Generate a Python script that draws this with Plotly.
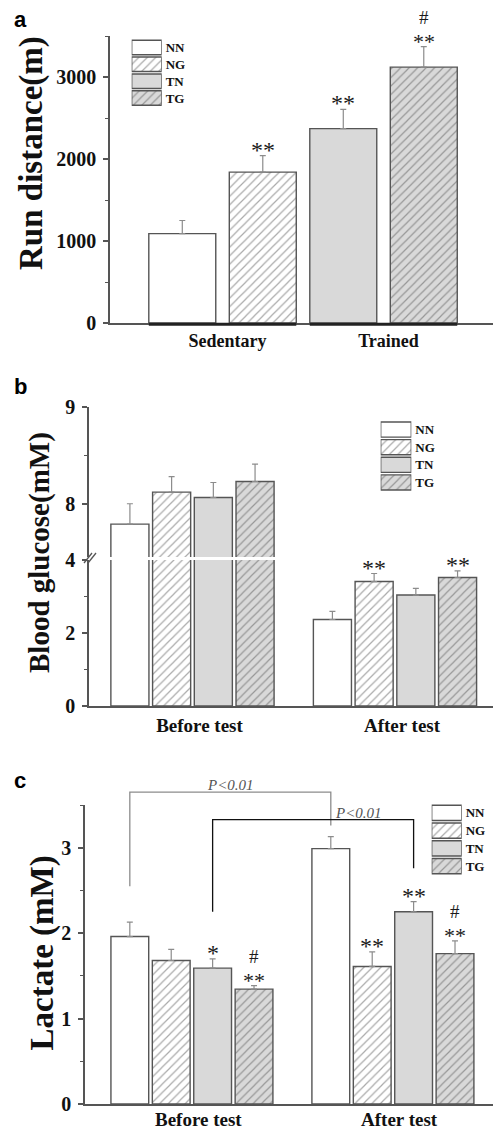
import plotly.graph_objects as go

W, H = 493, 1132

# ---------------- data ----------------
series = ["NN", "NG", "TN", "TG"]
series_fill = ["#ffffff", "#ffffff", "#d9d9d9", "#d9d9d9"]
series_hatch = ["", "/", "", "/"]

# panel a
a_groups = ["Sedentary", "Trained"]
a_group_index = [0, 0, 1, 1]            # NN, NG -> Sedentary ; TN, TG -> Trained
a_values = [1090, 1840, 2370, 3120]
a_errors = [160, 200, 235, 250]
a_marks = ["", "**", "**", "**"]
a_hash = ["", "", "", "#"]

# panel b  (per series: [before, after])
b_groups = ["Before test", "After test"]
b_values = [[7.79, 2.37], [8.12, 3.41], [8.065, 3.04], [8.23, 3.52]]
b_errors = [[0.21, 0.22], [0.16, 0.22], [0.155, 0.18], [0.18, 0.18]]
b_marks = [["", ""], ["", "**"], ["", ""], ["", "**"]]

# panel c
c_groups = ["Before test", "After test"]
c_values = [[1.96, 2.99], [1.68, 1.61], [1.59, 2.25], [1.345, 1.76]]
c_errors = [[0.17, 0.14], [0.13, 0.17], [0.11, 0.12], [0.04, 0.15]]
c_marks = [["", ""], ["", "**"], ["*", "**"], ["**", "**"]]
c_hash = [["", ""], ["", ""], ["", ""], ["#", "#"]]
# bracket: series, left foot, top, right foot
c_brackets = [("NN", 2.55, 3.65, 3.26), ("TN", 2.25, 3.33, 2.76)]
c_p_label = "P&lt;0.01"

# ---------------- layout helpers ----------------
def dx(l, r):
    return [l / W, r / W]

def dy(bottom, top):
    return [1 - bottom / H, 1 - top / H]

A_X, A_Y = dx(110, 493), dy(323, 36)
B_X, B_YL, B_YU = dx(89, 493), dy(706, 560), dy(557, 407)
C_X, C_Y = dx(85, 493), dy(1104, 805)
A_XR, B_XR, C_XR = [-0.699, 1.680], [-0.511, 1.484], [-0.532, 1.498]
A_YR, B_YLR, B_YUR, C_YR = [0, 3500], [0, 4.0], [7.45, 9.0], [0, 3.5001]

a_off = [-0.25, 0.25, -0.25, 0.25]
a_width = 0.416
bc_off = [-0.309, -0.103, 0.103, 0.309]
bc_width = 0.188

def to_px(v, rng, dom):
    return dom[0] + (v - rng[0]) / (rng[1] - rng[0]) * (dom[1] - dom[0])

LINE = "#555555"
TXT = "#111111"
ERR = dict(color="#8c8c8c", thickness=1.2, width=3)
SERIF = "Liberation Serif"

def marker(i):
    m = dict(color=series_fill[i], line=dict(color=LINE, width=1.4))
    if series_hatch[i]:
        m["pattern"] = dict(shape=series_hatch[i], fgcolor="#555555",
                            bgcolor=series_fill[i], size=6, solidity=0.2,
                            fillmode="overlay")
    return m

fig = go.Figure()

# ---------------- panel a ----------------
for i, s in enumerate(series):
    fig.add_trace(go.Bar(
        x=[a_group_index[i] + a_off[i]], y=[a_values[i]], width=a_width,
        marker=marker(i), showlegend=False, name=s,
        error_y=dict(type="data", symmetric=False, array=[a_errors[i]],
                     arrayminus=[0], **ERR),
        xaxis="x", yaxis="y"))

# ---------------- panel b ----------------
for i, s in enumerate(series):
    xs = [g + bc_off[i] for g in range(len(b_groups))]
    for ya in ("y2", "y3"):
        fig.add_trace(go.Bar(
            x=xs, y=b_values[i], width=bc_width, marker=marker(i),
            showlegend=False, name=s,
            error_y=dict(type="data", symmetric=False, array=b_errors[i],
                         arrayminus=[0, 0], **ERR),
            xaxis="x2", yaxis=ya))

# ---------------- panel c ----------------
for i, s in enumerate(series):
    xs = [g + bc_off[i] for g in range(len(c_groups))]
    fig.add_trace(go.Bar(
        x=xs, y=c_values[i], width=bc_width, marker=marker(i),
        showlegend=False, name=s,
        error_y=dict(type="data", symmetric=False, array=c_errors[i],
                     arrayminus=[0, 0], **ERR),
        xaxis="x4", yaxis="y4"))

# ---------------- custom legends (swatch bars) ----------------
legend_boxes = [("x5", "y5", (131.7, 161.7), (39, 106.5)),
                ("x6", "y6", (380.7, 411.3), (420.7, 491.3)),
                ("x7", "y7", (431.7, 461.7), (804, 875))]
for xa, ya, _, _ in legend_boxes:
    for i, s in enumerate(series):
        fig.add_trace(go.Bar(
            y=[s], x=[1], orientation="h", width=0.86, marker=marker(i),
            showlegend=False, name=s, xaxis=xa, yaxis=ya, hoverinfo="skip"))

# ---------------- axes ----------------
def yax(dom, rng, anchor, **kw):
    d = dict(domain=dom, range=rng, anchor=anchor, showline=True, linecolor=LINE,
             linewidth=1.5, ticks="outside", ticklen=5, tickwidth=1.5,
             tickcolor=LINE, showgrid=False, zeroline=False, automargin=False,
             ticklabelstandoff=3,
             tickfont=dict(family=SERIF, size=20, color=TXT, weight="bold"))
    d.update(kw)
    return d

def xax(dom, rng, anchor, groups, size, shift, show=True):
    return dict(domain=dom, range=rng, anchor=anchor, showline=True,
                linecolor=LINE, linewidth=1.5, ticks="", showgrid=False,
                zeroline=False, automargin=False, showticklabels=show,
                tickvals=list(range(len(groups))),
                ticktext=groups, ticklabelstandoff=1, ticklabelshift=shift,
                tickfont=dict(family=SERIF, size=size, color=TXT, weight="bold"))

minor = lambda **k: dict(ticks="outside", ticklen=3, tickwidth=1.2,
                         tickcolor=LINE, showgrid=False, **k)

fig.update_layout(
    xaxis=xax(A_X, A_XR, "y", a_groups, 18, 5),
    yaxis=yax(A_Y, A_YR, "x", dtick=1000, minor=minor(dtick=500)),
    xaxis2=xax(B_X, B_XR, "y2", b_groups, 19, 7),
    yaxis2=yax(B_YL, B_YLR, "x2", dtick=2, minor=minor(dtick=1)),
    yaxis3=yax(B_YU, B_YUR, "x2", tickvals=[8, 9], minor=minor(tickvals=[8.5])),
    xaxis4=xax(C_X, C_XR, "y4", c_groups, 19, 7, show=False),
    yaxis4=yax(C_Y, C_YR, "x4", dtick=1, minor=minor(dtick=0.5)),
)
for n, (xa, ya, xp, yp) in zip((5, 6, 7), legend_boxes):
    fig.layout[f"xaxis{n}"] = dict(domain=dx(*xp), range=[0, 1], anchor=ya,
                                   visible=False, fixedrange=True,
                                   automargin=False)
    fig.layout[f"yaxis{n}"] = dict(domain=dy(yp[1], yp[0]), range=[3.5, -0.5],
                                   anchor=xa, side="right", showline=False,
                                   ticks="", showgrid=False, zeroline=False,
                                   automargin=False,
                                   type="category", categoryarray=series,
                                   ticklabelstandoff=3,
                                   tickfont=dict(family=SERIF, size=13,
                                                 color=TXT, weight="bold"))

# ---------------- annotations ----------------
ann = []
def mark(x, y, xref, yref, star, hsh):
    size = 22 if hsh else 24
    ann.append(dict(x=x, y=y, xref=xref, yref=yref, text=star, showarrow=False,
                    yanchor="bottom", yshift=-9,
                    font=dict(family=SERIF, size=size, color="#1a1a1a")))
    if hsh:
        ann.append(dict(x=x, y=y, xref=xref, yref=yref, text=hsh, showarrow=False,
                        yanchor="bottom", yshift=16.5,
                        font=dict(family=SERIF, size=19, color="#1a1a1a")))

for i in range(4):
    if a_marks[i]:
        mark(a_group_index[i] + a_off[i], a_values[i] + a_errors[i], "x", "y",
             a_marks[i], a_hash[i])
for i in range(4):
    for g in range(2):
        xv = g + bc_off[i]
        if b_marks[i][g]:
            mark(xv, b_values[i][g] + b_errors[i][g], "x2", "y2", b_marks[i][g], "")
        if c_marks[i][g]:
            mark(xv, c_values[i][g] + c_errors[i][g], "x4", "y4",
                 c_marks[i][g], c_hash[i][g])

# category labels of panel c (kept inside the page bottom)
for g, name in enumerate(c_groups):
    ann.append(dict(x=g, y=0, xref="x4", yref="paper", text=name,
                    showarrow=False, yanchor="bottom", xshift=7, yshift=0,
                    font=dict(family=SERIF, size=19, color=TXT, weight="bold")))

# axis titles
for txt, xp, yp, size in [("Run distance(m)", 31.5, 153.5, 33),
                          ("Blood glucose(mM)", 40, 553, 29),
                          ("Lactate (mM)", 42, 953.5, 33)]:
    ann.append(dict(x=xp / W, y=1 - yp / H, xref="paper", yref="paper",
                    text=txt, textangle=-90, showarrow=False,
                    xanchor="center", yanchor="middle",
                    font=dict(family=SERIF, size=size, color=TXT, weight="bold")))
# panel letters
for txt, xp, yp in [("a", 20, 19), ("b", 20, 386), ("c", 20, 780)]:
    ann.append(dict(x=xp / W, y=1 - yp / H, xref="paper", yref="paper",
                    text=txt, showarrow=False, xanchor="center", yanchor="middle",
                    font=dict(family="Liberation Sans", size=22, color="#000",
                              weight="bold")))

# ---------------- shapes ----------------
shapes = []
# group underlines in panel a
for g in range(len(a_groups)):
    idx = [i for i in range(4) if a_group_index[i] == g]
    l = min(a_group_index[i] + a_off[i] for i in idx) - a_width / 2
    r = max(a_group_index[i] + a_off[i] for i in idx) + a_width / 2
    y0 = to_px(0, A_YR, A_Y) - 1.2 / H
    shapes.append(dict(type="line", xref="paper", yref="paper",
                       x0=to_px(l, A_XR, A_X), x1=to_px(r, A_XR, A_X),
                       y0=y0, y1=y0, line=dict(color="#222", width=3)))

# broken-axis marks in panel b
for off in (0, 4):
    shapes.append(dict(type="line", xref="paper", yref="paper",
                       x0=(84 + off) / W, x1=(92 + off) / W,
                       y0=1 - 563 / H, y1=1 - 553 / H,
                       line=dict(color=LINE, width=1.3)))

# significance brackets in panel c
bracket_colors = ["#8c8c8c", "#111111"]
for (s, yl, yt, yr), col in zip(c_brackets, bracket_colors):
    i = series.index(s)
    xl = to_px(0 + bc_off[i], C_XR, C_X)
    xr = to_px(1 + bc_off[i], C_XR, C_X)
    pl, pt, pr = (to_px(v, C_YR, C_Y) for v in (yl, yt, yr))
    shapes.append(dict(type="path", xref="paper", yref="paper",
                       path=f"M{xl},{pl} L{xl},{pt} L{xr},{pt} L{xr},{pr}",
                       line=dict(color=col, width=1.3)))
# p labels
i0 = series.index(c_brackets[0][0])
ann.append(dict(x=to_px((0 + bc_off[i0] + 1 + bc_off[i0]) / 2, C_XR, C_X),
                y=to_px(c_brackets[0][2], C_YR, C_Y), xref="paper", yref="paper",
                text=c_p_label, showarrow=False, yanchor="bottom", yshift=-3,
                font=dict(family=SERIF, size=15, color="#555", style="italic")))
ann.append(dict(x=to_px(1 + bc_off[i0], C_XR, C_X),
                y=to_px(c_brackets[1][2], C_YR, C_Y), xref="paper", yref="paper",
                text=c_p_label, showarrow=False, xanchor="left", yanchor="bottom",
                yshift=-3, xshift=2,
                font=dict(family=SERIF, size=15, color="#555", style="italic")))

fig.update_layout(
    width=W, height=H, margin=dict(l=0, r=0, t=0, b=0, autoexpand=False),
    paper_bgcolor="white", plot_bgcolor="white", barmode="overlay",
    showlegend=False, annotations=ann, shapes=shapes,
    font=dict(family=SERIF, color=TXT),
)

fig.write_html("out.html")
